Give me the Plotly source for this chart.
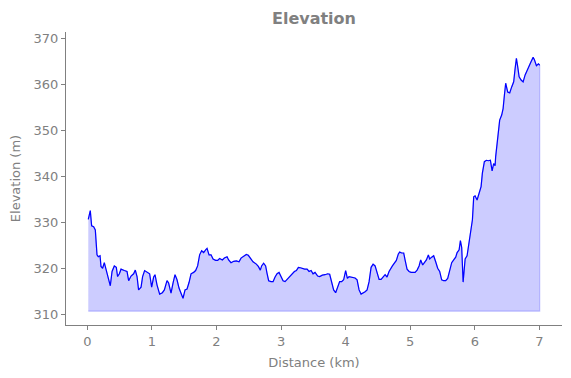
import plotly.graph_objects as go

distance_km = [
    0.015, 0.046, 0.067, 0.098, 0.124, 0.150, 0.170, 0.197, 0.212, 0.237,
    0.263, 0.290, 0.325, 0.356, 0.383, 0.418, 0.449, 0.469, 0.496, 0.522,
    0.573, 0.615, 0.640, 0.677, 0.717, 0.743, 0.770, 0.794, 0.832, 0.856,
    0.887, 0.934, 0.965, 0.996, 1.027, 1.048, 1.079, 1.120, 1.162, 1.193,
    1.234, 1.259, 1.296, 1.327, 1.358, 1.389, 1.420, 1.451, 1.482, 1.513,
    1.544, 1.575, 1.606, 1.646, 1.677, 1.708, 1.739, 1.770, 1.801, 1.832,
    1.854, 1.885, 1.916, 1.947, 1.987, 2.018, 2.049, 2.091, 2.122, 2.164,
    2.188, 2.225, 2.266, 2.308, 2.349, 2.380, 2.421, 2.462, 2.493, 2.524,
    2.566, 2.617, 2.648, 2.679, 2.699, 2.730, 2.761, 2.783, 2.808, 2.845,
    2.876, 2.907, 2.938, 2.969, 3.000, 3.031, 3.062, 3.093, 3.133, 3.164,
    3.206, 3.237, 3.268, 3.299, 3.330, 3.365, 3.403, 3.434, 3.465, 3.495,
    3.526, 3.567, 3.598, 3.639, 3.681, 3.722, 3.753, 3.783, 3.814, 3.845,
    3.876, 3.907, 3.938, 3.969, 4.000, 4.027, 4.053, 4.104, 4.146, 4.177,
    4.208, 4.239, 4.270, 4.301, 4.332, 4.363, 4.394, 4.425, 4.456, 4.487,
    4.518, 4.549, 4.580, 4.611, 4.641, 4.672, 4.724, 4.755, 4.785, 4.816,
    4.837, 4.868, 4.899, 4.920, 4.951, 4.982, 5.013, 5.044, 5.075, 5.106,
    5.137, 5.162, 5.193, 5.219, 5.250, 5.281, 5.301, 5.332, 5.363, 5.394,
    5.425, 5.456, 5.487, 5.518, 5.549, 5.580, 5.611, 5.642, 5.673, 5.704,
    5.726, 5.757, 5.777, 5.797, 5.819, 5.850, 5.880, 5.905, 5.932, 5.963,
    5.983, 6.004, 6.035, 6.066, 6.097, 6.117, 6.148, 6.179, 6.210, 6.241,
    6.268, 6.292, 6.314, 6.323, 6.345, 6.365, 6.385, 6.416, 6.438, 6.458,
    6.478, 6.509, 6.540, 6.571, 6.602, 6.624, 6.644, 6.664, 6.686, 6.717,
    6.748, 6.779, 6.810, 6.841, 6.872, 6.903, 6.923, 6.954, 6.985, 7.005,
]

elevation_m = [
    330.7, 332.6, 329.3, 329.1, 328.4, 323.0, 322.6, 322.8, 320.5, 320.1,
    321.3, 319.7, 317.6, 316.3, 319.4, 320.6, 320.3, 318.3, 318.9, 319.9,
    319.6, 319.4, 317.4, 318.4, 318.9, 319.7, 318.3, 315.4, 316.0, 318.3,
    319.6, 319.2, 318.9, 316.0, 318.2, 318.7, 316.5, 314.5, 314.8, 315.4,
    317.4, 316.9, 314.7, 316.9, 318.7, 317.6, 315.8, 314.7, 313.6, 315.4,
    315.6, 317.0, 318.9, 319.2, 319.6, 320.6, 323.0, 323.9, 323.5, 324.1,
    324.4, 323.0, 323.0, 322.1, 321.8, 321.8, 322.2, 321.9, 322.3, 322.6,
    321.9, 321.3, 321.6, 321.7, 321.5, 322.3, 322.8, 323.1, 322.9, 322.3,
    321.5, 321.0, 320.5, 319.7, 320.6, 321.2, 320.6, 319.0, 317.4, 317.2,
    317.2, 318.2, 318.9, 319.2, 318.4, 317.4, 317.2, 317.7, 318.4, 318.7,
    319.4, 319.6, 320.3, 320.2, 320.0, 319.9, 319.9, 319.4, 319.6, 318.9,
    319.2, 318.4, 318.3, 318.6, 318.7, 318.9, 318.8, 317.2, 315.4, 314.8,
    316.1, 317.2, 317.2, 317.6, 319.6, 317.9, 318.3, 318.2, 318.0, 317.6,
    315.4, 314.5, 314.7, 315.0, 315.4, 317.2, 320.3, 321.0, 320.6, 319.0,
    317.7, 317.7, 318.2, 318.7, 318.2, 319.4, 320.6, 321.2, 321.8, 323.2,
    323.6, 323.4, 323.4, 321.9, 319.9, 319.4, 319.2, 319.2, 319.2, 319.7,
    320.6, 321.9, 320.8, 321.3, 321.9, 323.0, 322.1, 322.5, 322.8, 321.5,
    320.1, 319.4, 317.6, 317.4, 317.4, 317.9, 319.7, 321.3, 321.9, 322.5,
    323.5, 324.1, 326.1, 324.6, 317.1, 322.1, 322.8, 325.5, 328.0, 330.6,
    335.6, 335.8, 334.9, 336.3, 337.8, 340.7, 343.2, 343.5, 343.4, 343.5,
    341.2, 342.8, 342.3, 344.3, 347.2, 350.8, 352.2, 353.3, 354.7, 357.6,
    360.2, 358.3, 358.1, 359.4, 360.5, 363.4, 365.6, 363.8, 361.6, 360.9,
    360.5, 362.0, 363.1, 364.0, 364.9, 365.8, 365.3, 364.0, 364.4, 364.1,
]

fill_base = 310.8

x_tick_vals = [0, 1, 2, 3, 4, 5, 6, 7]
y_tick_vals = [310, 320, 330, 340, 350, 360, 370]

GRAY = "#808080"
FONT = "DejaVu Sans"

fig = go.Figure()

# filled area (polygon closed down to the base level)
poly_x = distance_km + [distance_km[-1], distance_km[0]]
poly_y = elevation_m + [fill_base, fill_base]
fig.add_trace(go.Scatter(
    x=poly_x, y=poly_y, mode="lines", fill="toself",
    fillcolor="rgba(0,0,255,0.2)",
    line=dict(color="rgba(0,0,255,0.2)", width=1.2),
    hoverinfo="skip", showlegend=False,
))

fig.add_trace(go.Scatter(
    x=distance_km, y=elevation_m, mode="lines",
    line=dict(color="#0000ff", width=1.2),
    showlegend=False,
))

fig.update_layout(
    width=563, height=370,
    margin=dict(l=58, r=9, t=24, b=53, autoexpand=False),
    paper_bgcolor="white", plot_bgcolor="white",
    font=dict(family=FONT, size=13, color=GRAY),
    title=dict(text="<b>Elevation</b>", x=0.5435, xanchor="center",
               y=0.973, yanchor="middle", automargin=False,
               font=dict(family=FONT, size=16, color=GRAY)),
    xaxis=dict(
        range=[-0.33, 7.35], tickvals=x_tick_vals,
        showgrid=False, zeroline=False, automargin=False,
        showline=True, linecolor=GRAY, linewidth=1,
        ticks="outside", ticklen=4, tickcolor=GRAY,
        tickfont=dict(size=13, color=GRAY),
        title=dict(text="Distance (km)", font=dict(size=13, color=GRAY), standoff=10),
    ),
    yaxis=dict(
        range=[307.8, 371.3], tickvals=y_tick_vals,
        showgrid=False, zeroline=False, automargin=False,
        showline=True, linecolor=GRAY, linewidth=1,
        ticks="outside", ticklen=4, tickcolor=GRAY,
        tickfont=dict(size=13, color=GRAY),
        title=dict(text="Elevation (m)", font=dict(size=13, color=GRAY), standoff=10),
    ),
)

fig.write_html("out.html")
